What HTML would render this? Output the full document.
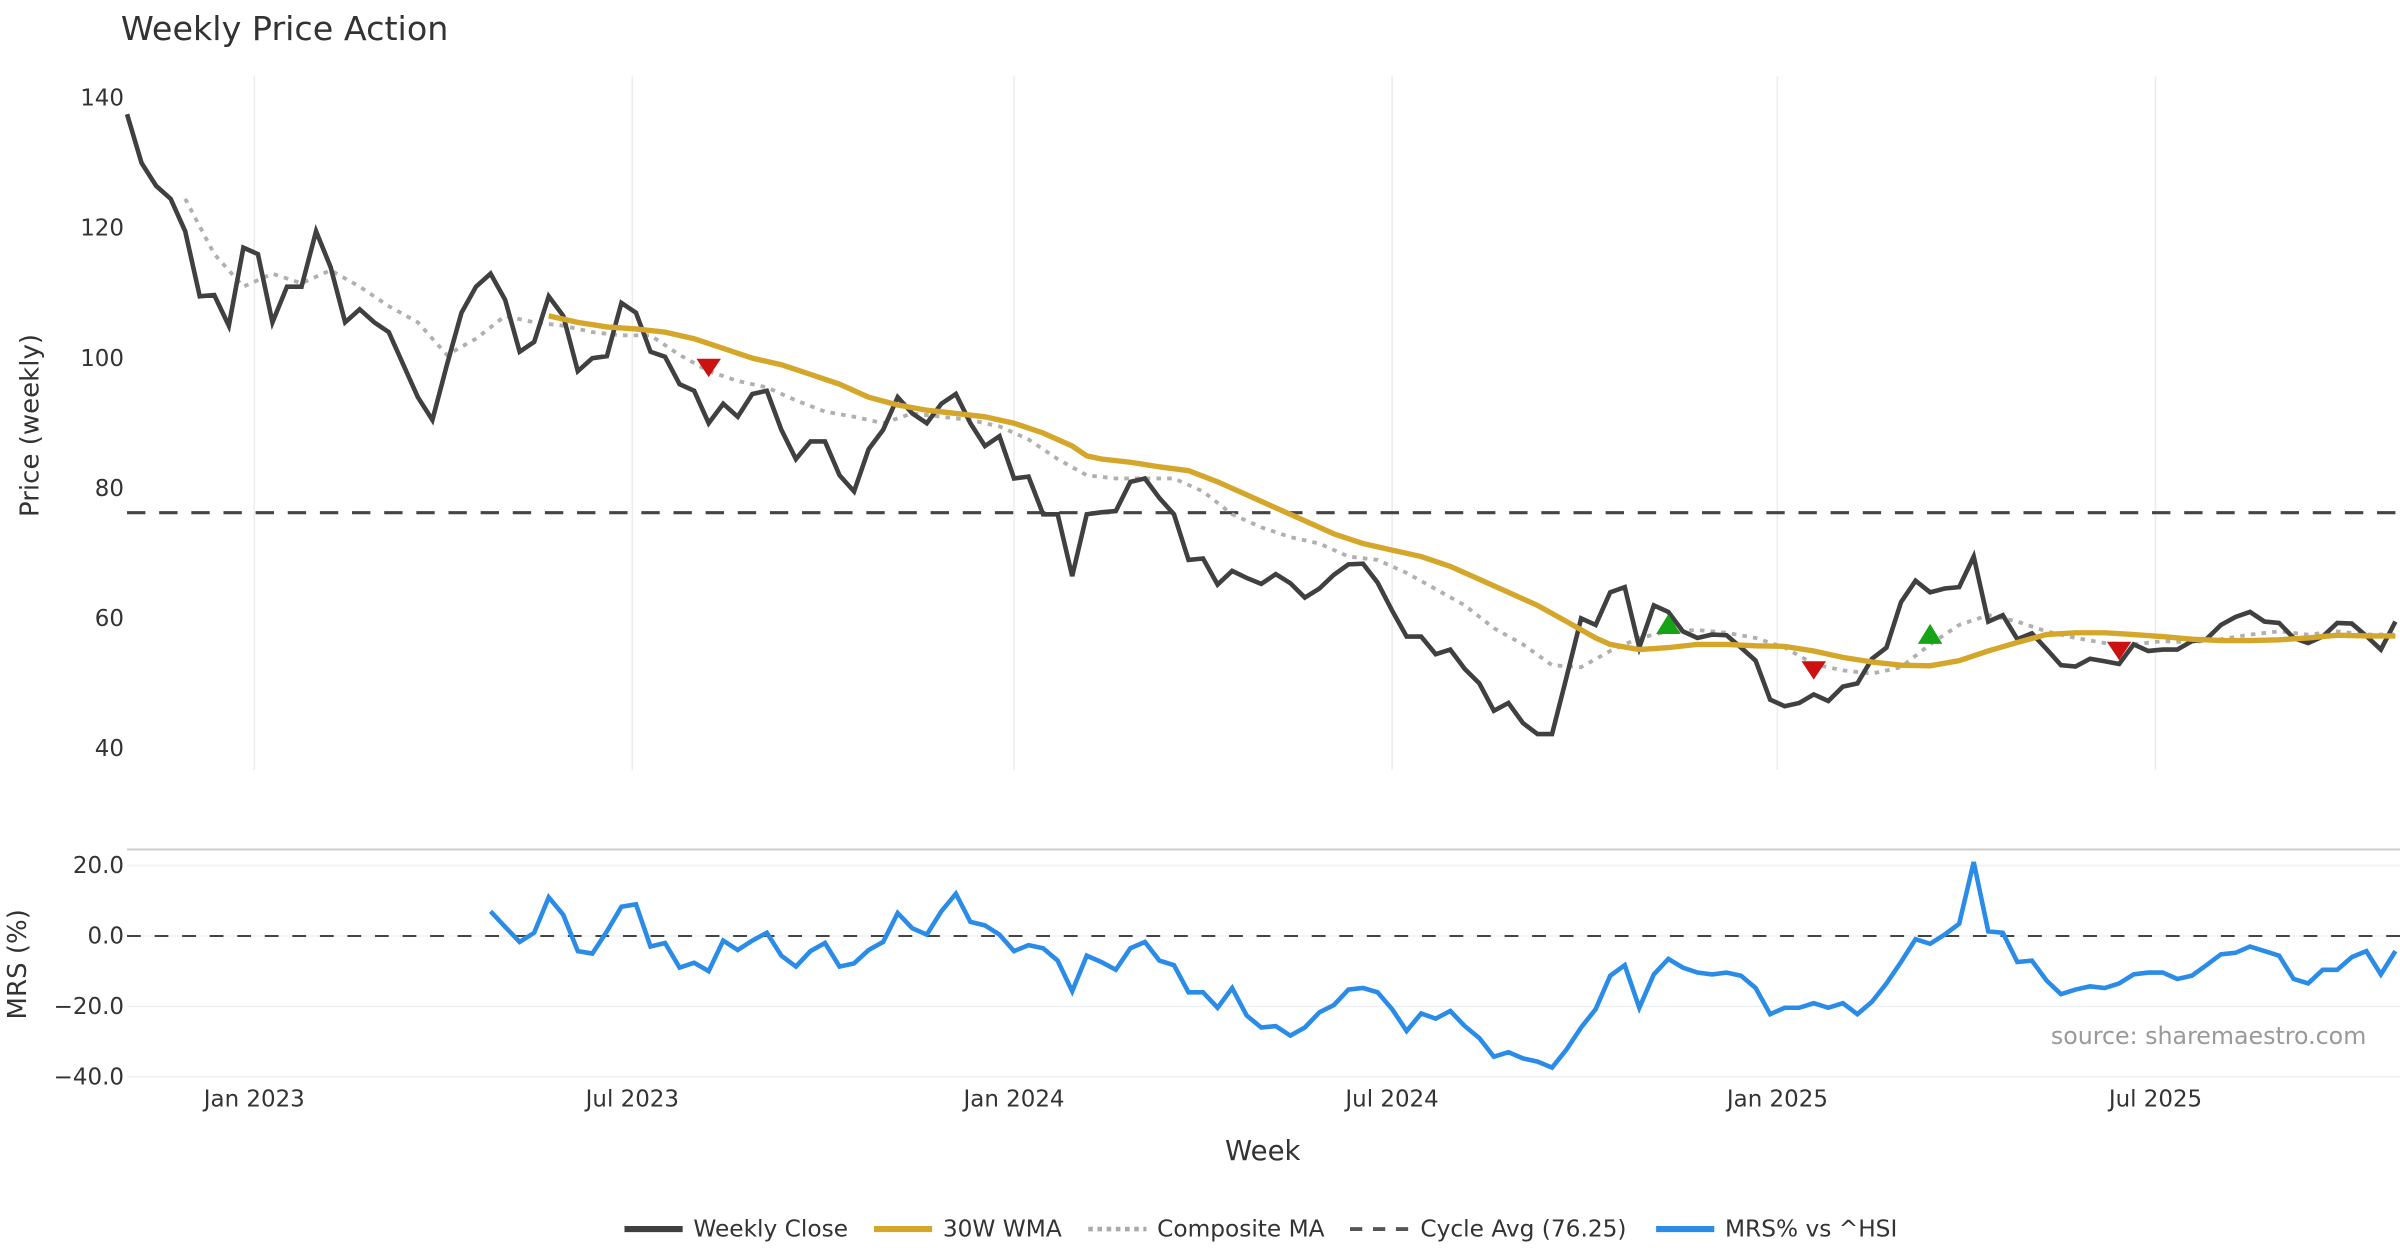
<!DOCTYPE html>
<html><head><meta charset="utf-8"><style>
html,body{margin:0;padding:0;background:#fff;}
svg{display:block;font-family:"DejaVu Sans","Liberation Sans",sans-serif;}
</style></head><body>
<svg id="chart" width="2400" height="1260" viewBox="0 0 1568 823.2" xmlns="http://www.w3.org/2000/svg">
<rect width="1568" height="823.2" fill="#fff"/>
<text x="79" y="26" font-size="21.8" fill="#333">Weekly Price Action</text>
<g id="grid"></g>
<g id="axes"></g>
<g id="series"></g>
<text transform="translate(25,278) rotate(-90)" text-anchor="middle" font-size="17" fill="#333">Price (weekly)</text>
<text transform="translate(17,630) rotate(-90)" text-anchor="middle" font-size="17" fill="#333">MRS (%)</text>
<text x="825" y="758" text-anchor="middle" font-size="18" fill="#333">Week</text>
<text x="1546" y="682" text-anchor="end" font-size="15.5" fill="#999">source: sharemaestro.com</text>
<g font-size="15.2" fill="#333">
<line x1="408" y1="803" x2="446" y2="803" stroke="#404040" stroke-width="4"/>
<text x="453" y="808">Weekly Close</text>
<line x1="571" y1="803" x2="609" y2="803" stroke="#D4A62A" stroke-width="4"/>
<text x="616" y="808">30W WMA</text>
<line x1="711" y1="803" x2="749" y2="803" stroke="#aaa" stroke-width="3" stroke-dasharray="3,3"/>
<text x="756" y="808">Composite MA</text>
<line x1="882" y1="803" x2="920" y2="803" stroke="#555" stroke-width="2.5" stroke-dasharray="8,7"/>
<text x="928" y="808">Cycle Avg (76.25)</text>
<line x1="1082" y1="803" x2="1120" y2="803" stroke="#2B8CE8" stroke-width="4"/>
<text x="1127" y="808">MRS% vs ^HSI</text>
</g>
</svg>
<script>
const closeValues=[137.5,130,126.5,124.5,119.5,109.5,109.7,105,117,116,105.5,111,111,119.5,114,105.5,107.5,105.5,104,99,94,90.5,99,107,111,113,109,101,102.5,109.5,106.5,98,100,100.3,108.5,107,101,100.2,96,95,90,93,91,94.5,95,89,84.5,87.2,87.2,82,79.5,86,89,94,91.5,90,93,94.5,90,86.5,88,81.5,81.8,76,76,66.5,76,76.3,76.5,81,81.5,78.5,76,69,69.2,65.2,67.3,66.2,65.3,66.8,65.4,63.2,64.6,66.7,68.3,68.4,65.5,61.2,57.2,57.2,54.5,55.2,52.2,50,45.8,47,43.9,42.2,42.2,51,60,59,64,64.8,55.5,62,61,58,57,57.5,57.4,55.5,53.5,47.5,46.5,47,48.3,47.3,49.5,50,53.8,55.5,62.5,65.8,64,64.6,64.8,69.5,59.5,60.5,56.8,57.7,55.3,52.8,52.6,53.8,53.4,53,56,55,55.2,55.2,56.5,56.8,59,60.2,61,59.5,59.3,57,56.2,57.2,59.3,59.2,57.3,55.2,59.5];
const wmaWeeks=[29,31,33,35,37,39,41,43,45,47,49,51,53,55,57,59,61,63,65,66,67,69,71,73,75,77,79,81,83,85,87,89,91,93,95,97,99,101,102,104,106,108,110,112,114,116,118,120,122,124,126,128,130,132,134,136,138,140,142,144,146,148,150,152,154,156];
const wmaValues=[106.5,105.5,104.8,104.5,104,103,101.5,100,99,97.5,96,94,92.8,92,91.5,91,90,88.5,86.5,85,84.5,84,83.3,82.7,81,79,77,75,73,71.5,70.5,69.5,68,66,64,62,59.5,57,56,55.2,55.5,56,56,55.8,55.7,55,54,53.3,52.8,52.7,53.5,55,56.3,57.5,57.8,57.8,57.5,57.2,56.8,56.6,56.6,56.7,57,57.4,57.3,57.3];
const compWeeks=[4,6,8,10,12,14,16,18,20,22,24,26,28,30,32,34,36,38,40,42,44,46,48,50,52,54,56,58,60,62,64,66,68,70,72,74,76,78,80,82,84,86,88,90,92,94,96,98,100,102,104,106,108,110,112,114,116,118,120,122,124,126,128,130,132,134,136,138,140,142,144,146,148,150,152,154,156];
const compValues=[124.5,116,111,113,111.5,113.5,111,108,105.5,100.5,103,106.5,105.5,105,104,103.5,103.5,100.5,98,96.5,95.5,93.5,91.8,91,90,91.5,91,90.5,89.5,87.5,84.5,82,81.5,81.5,81.5,79.5,76,74,72.5,71.5,69.5,69,67,64.5,62,58.5,56,52.8,52.5,55,57,58,58.2,57.8,57,55.5,53,52,51.5,52.5,56,59,60.5,59.5,58,57,56.2,56,56.5,56.3,56.8,57.5,58,57.5,58,57.5,57.5];
const cycleAvg=76.25;
const sellWeeks=[40,116,137];
const sellValues=[98.5,52,55];
const buyWeeks=[106,124];
const buyValues=[59,57.5];
const mrsStart=25;
const mrsValues=[7,2.6,-1.7,0.9,11,6,-4.3,-5,1.3,8.3,9,-3,-2,-9,-7.6,-10,-1.3,-4,-1.3,0.9,-5.6,-8.7,-4.3,-2,-8.7,-7.8,-4,-1.7,6.5,2.2,0.4,7,12,4,3,0.4,-4.3,-2.6,-3.5,-7,-15.7,-5.6,-7.4,-9.6,-3.5,-1.7,-7,-8.3,-16,-16,-20.4,-14.8,-22.6,-26,-25.6,-28.3,-26,-21.7,-19.6,-15.2,-14.8,-16,-20.8,-27,-22,-23.5,-21.3,-25.6,-29,-34.3,-33,-34.8,-35.7,-37.4,-32.2,-26,-20.8,-11.3,-8.3,-20.4,-10.9,-6.5,-9,-10.4,-10.9,-10.4,-11.3,-14.8,-22.2,-20.4,-20.4,-19.1,-20.4,-19.1,-22.2,-18.7,-13.5,-7.4,-0.9,-2.2,0.4,3.5,21,1.3,0.9,-7.4,-7,-12.6,-16.5,-15.2,-14.3,-14.8,-13.5,-10.9,-10.4,-10.4,-12.2,-11.3,-8.3,-5.2,-4.8,-3,-4.3,-5.6,-12.2,-13.5,-9.6,-9.6,-6,-4.3,-10.9,-4.3];
const priceTicks=[140,120,100,80,60,40];
const mrsTicks=[20,0,-20,-40];
const mrsTickLabels=["20.0","0.0","\u221220.0","\u221240.0"];
const dateTickWeeks=[8.75,34.75,61,87,113.5,139.5];
const dateTickLabels=["Jan 2023","Jul 2023","Jan 2024","Jul 2024","Jan 2025","Jul 2025"];

const NS="http://www.w3.org/2000/svg";
const X0=83, XW=9.5;
const xs=w=>X0+w*XW;
const yp=v=>64+(140-v)*4.25;
const ym=v=>565.5+(20-v)*2.3;
function mk(tag,attrs,parent){const e=document.createElementNS(NS,tag);for(const k in attrs)e.setAttribute(k,attrs[k]);parent.appendChild(e);return e;}
const grid=document.getElementById('grid'),axes=document.getElementById('axes'),ser=document.getElementById('series');

dateTickWeeks.forEach((w,i)=>{
  const g=mk('line',{x1:xs(w),x2:xs(w),y1:50,y2:503,stroke:'#ececec','stroke-width':1},grid);
  
  
  const t=mk('text',{x:xs(w),y:723,'text-anchor':'middle','font-size':15,fill:'#333'},axes);
  t.textContent=dateTickLabels[i];
  
  
});
priceTicks.forEach(v=>{
  const t=mk('text',{x:81,y:yp(v)+5,'text-anchor':'end','font-size':15,fill:'#333'},axes);
  t.textContent=v;
  
  
});
const border=mk('line',{x1:83,x2:1568,y1:555,y2:555,stroke:'#ccc','stroke-width':1.3},grid);


mrsTicks.forEach((v,i)=>{
  const g=mk('line',{x1:83,x2:1568,y1:ym(v),y2:ym(v),stroke:'#eef0f4','stroke-width':1},grid);
  
  
  const t=mk('text',{x:81,y:ym(v)+5,'text-anchor':'end','font-size':15,fill:'#333'},axes);
  t.textContent=mrsTickLabels[i];
  
  
});
const zl=mk('line',{x1:83,x2:1568,y1:ym(0),y2:ym(0),stroke:'#444','stroke-width':1.3,'stroke-dasharray':'9,9'},ser);



function pts(weeks,vals,yf){return vals.map((v,i)=>xs(weeks[i]).toFixed(1)+','+yf(v).toFixed(1)).join(' ');}
const idx=closeValues.map((_,i)=>i);
const ca=mk('line',{x1:83,x2:1568,y1:yp(cycleAvg),y2:yp(cycleAvg),stroke:'#444','stroke-width':2,'stroke-dasharray':'12,9'},ser);


const cm=mk('polyline',{points:pts(compWeeks,compValues,yp),fill:'none',stroke:'#b0b0b0','stroke-width':2.5,'stroke-dasharray':'3,4'},ser);


const cl=mk('polyline',{points:pts(idx,closeValues,yp),fill:'none',stroke:'#404040','stroke-width':3,'stroke-linejoin':'miter'},ser);


const wm=mk('polyline',{points:pts(wmaWeeks,wmaValues,yp),fill:'none',stroke:'#D4A62A','stroke-width':3.5},ser);


sellWeeks.forEach((w,i)=>{
  const x=xs(w),y=yp(sellValues[i]);
  const p=mk('polygon',{points:`${x-8},${y-6} ${x+8},${y-6} ${x},${y+6}`,fill:'#CC1111'},ser);
  
  
});
buyWeeks.forEach((w,i)=>{
  const x=xs(w),y=yp(buyValues[i]);
  const p=mk('polygon',{points:`${x-8},${y+6} ${x+8},${y+6} ${x},${y-7}`,fill:'#16A316'},ser);
  
  
});
const mw=mrsValues.map((_,i)=>mrsStart+i);
const ml=mk('polyline',{points:pts(mw,mrsValues,ym),fill:'none',stroke:'#2B8CE8','stroke-width':3},ser);


</script>
</body></html>
